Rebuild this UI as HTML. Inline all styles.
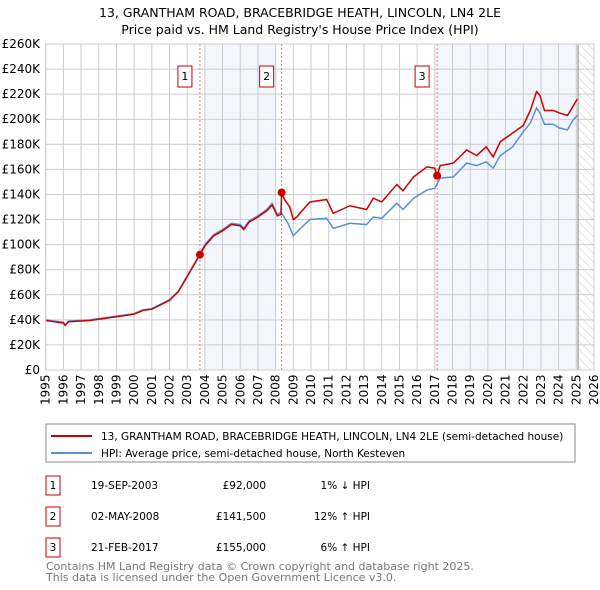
<!DOCTYPE html>
<html><head><meta charset="utf-8"><style>
body{margin:0;background:#fff;font-family:"Liberation Sans","DejaVu Sans",sans-serif}
svg{display:block}
</style></head><body>
<svg id="c" width="600" height="590" xmlns="http://www.w3.org/2000/svg" font-family="DejaVu Sans, Liberation Sans, sans-serif">
<text x="300" y="17" text-anchor="middle" font-size="12.5">13, GRANTHAM ROAD, BRACEBRIDGE HEATH, LINCOLN, LN4 2LE</text>
<text x="300" y="34" text-anchor="middle" font-size="12.5">Price paid vs. HM Land Registry's House Price Index (HPI)</text>
<defs><pattern id="hatch" width="6" height="6" patternUnits="userSpaceOnUse" patternTransform="rotate(-45)"><line x1="0" y1="0" x2="0" y2="6" stroke="#ccc" stroke-width="1"/></pattern></defs>
<g id="plot"></g>
<g>
<rect x="46" y="424" width="529" height="38" fill="#fff" stroke="#888"/>
<line x1="51" y1="436" x2="92" y2="436" stroke="#cc0000" stroke-width="2"/>
<text x="101" y="440" font-size="10.5">13, GRANTHAM ROAD, BRACEBRIDGE HEATH, LINCOLN, LN4 2LE (semi-detached house)</text>
<line x1="51" y1="453" x2="92" y2="453" stroke="#5b8fd4" stroke-width="2"/>
<text x="101" y="457" font-size="10.5">HPI: Average price, semi-detached house, North Kesteven</text>
</g>
<g font-size="10.5">
<rect x="46" y="476" width="14" height="19" fill="#fff" stroke="#cc0000"/><text x="53" y="489" text-anchor="middle">1</text>
<text x="91" y="489">19-SEP-2003</text><text x="266" y="489" text-anchor="end">£92,000</text><text x="370" y="489" text-anchor="end">1% ↓ HPI</text>
<rect x="46" y="507" width="14" height="19" fill="#fff" stroke="#cc0000"/><text x="53" y="520" text-anchor="middle">2</text>
<text x="91" y="520">02-MAY-2008</text><text x="266" y="520" text-anchor="end">£141,500</text><text x="370" y="520" text-anchor="end">12% ↑ HPI</text>
<rect x="46" y="538" width="14" height="19" fill="#fff" stroke="#cc0000"/><text x="53" y="551" text-anchor="middle">3</text>
<text x="91" y="551">21-FEB-2017</text><text x="266" y="551" text-anchor="end">£155,000</text><text x="370" y="551" text-anchor="end">6% ↑ HPI</text>
</g>
<text x="46" y="570" font-size="11" fill="#777">Contains HM Land Registry data © Crown copyright and database right 2025.</text>
<text x="46" y="581" font-size="11" fill="#777">This data is licensed under the Open Government Licence v3.0.</text>
</svg>
<script>
const yTicks=[0,20,40,60,80,100,120,140,160,180,200,220,240,260];
const years=[1995,1996,1997,1998,1999,2000,2001,2002,2003,2004,2005,2006,2007,2008,2009,2010,2011,2012,2013,2014,2015,2016,2017,2018,2019,2020,2021,2022,2023,2024,2025,2026];
const hpiT=[1995,1995.5,1996,1996.1,1996.3,1997.5,1998,1999,2000,2000.5,2001,2002,2002.5,2003,2003.7,2004,2004.5,2005,2005.5,2006,2006.2,2006.5,2007,2007.5,2007.8,2008.1,2008.3,2008.7,2009,2009.37,2009.94,2010.88,2011.26,2012.2,2013.14,2013.52,2014,2014.85,2015.2,2015.8,2016.55,2017,2017.3,2018.05,2018.8,2019.37,2019.9,2020.3,2020.7,2021.4,2022,2022.4,2022.75,2022.94,2023.2,2023.7,2024.05,2024.5,2024.8,2025.05];
const hpiV=[40,39,38,36,39,40,41,43,45,48,49,56,63,75,92,100,108,112,117,116,113,119,123,128,133,124,126,117,107,112.5,120,121,113,117,116,122,121,133,128,137,143.5,145,153,154,165,163,166,161,171,178,190,197,209,205,196,196,193,191.5,199,203];
const propT=[1995,1995.5,1996,1996.1,1996.3,1997.5,1998,1999,2000,2000.5,2001,2002,2002.5,2003,2003.72,2004,2004.5,2005,2005.5,2006,2006.2,2006.5,2007,2007.5,2007.8,2008.1,2008.3,2008.34,2008.5,2008.8,2009,2009.2,2009.37,2009.94,2010.88,2011.26,2012.2,2013.14,2013.52,2014,2014.85,2015.2,2015.8,2016.55,2017,2017.13,2017.3,2018.05,2018.8,2019.37,2019.9,2020.3,2020.7,2021.4,2022,2022.4,2022.75,2022.94,2023.2,2023.7,2024.05,2024.5,2024.8,2025.05];
const propV=[39.5,38.5,37.5,35.5,38.5,39.5,40.5,42.5,44.5,47.5,48.5,55.5,62.5,74.5,92,99,107,111,116,115,112,118,122,127,131.5,123,124,141.5,136,130,120,122,125,134,136,125,131,128,137,134,148,143,154,162,161,155,163,165,175.5,171,178,170,182,189,195,207,222,219,207,207,205,203,210,216];
const sales=[{n:"1",t:2003.72,v:92},{n:"2",t:2008.34,v:141.5},{n:"3",t:2017.13,v:155}];
const X0=45.7,X1=594,Y0=370,Y1=44;
const x=t=>X0+(t-1995)/31*(X1-X0);
const y=v=>Y0-v/260*(Y0-Y1);
const NS="http://www.w3.org/2000/svg";
const g=document.getElementById('plot');
function mk(tag,attrs,parent){const e=document.createElementNS(NS,tag);for(const k in attrs)e.setAttribute(k,attrs[k]);(parent||g).appendChild(e);return e;}
let e;
e=mk('rect',{x:X0,y:Y1,width:X1-X0,height:Y0-Y1,fill:'#fff'});


e=mk('rect',{x:x(2004),y:Y1,width:x(2008)-x(2004),height:Y0-Y1,fill:'#f3f6fd'});


e=mk('rect',{x:x(2017.13),y:Y1,width:x(2025.1)-x(2017.13),height:Y0-Y1,fill:'#f3f6fd'});


e=mk('rect',{x:x(2025.1),y:Y1,width:X1-x(2025.1),height:Y0-Y1,fill:'url(#hatch)'});


years.forEach(yr=>{
 e=mk('line',{x1:x(yr),x2:x(yr),y1:Y1,y2:Y0,stroke:'#ccc','stroke-width':1});
 
 
 e=mk('text',{x:0,y:0,'font-size':12,transform:`translate(${x(yr)+4},${Y0+35}) rotate(-90)`});
 e.textContent=yr;
 
 
});
yTicks.forEach(v=>{
 e=mk('line',{x1:X0,x2:X1,y1:y(v),y2:y(v),stroke:'#ccc','stroke-width':1});
 
 
 e=mk('text',{x:40,y:y(v)+4,'font-size':12,'text-anchor':'end'});
 e.textContent=v===0?'£0':'£'+v+'K';
 
 
});
e=mk('line',{x1:x(2025.1),x2:x(2025.1),y1:Y1,y2:Y0,stroke:'#888','stroke-width':1});


sales.forEach(s=>{
 e=mk('line',{x1:x(s.t),x2:x(s.t),y1:Y1,y2:Y0,stroke:'#f07070','stroke-width':1,'stroke-dasharray':'2,2'});
 
 
 e=mk('rect',{x:x(s.t)-22,y:66,width:14,height:21,fill:'#fff',stroke:'#cc0000'});
 
 
 e=mk('text',{x:x(s.t)-15,y:80,'font-size':11,'text-anchor':'middle'});
 e.textContent=s.n;
 
 
});
e=mk('polyline',{points:hpiT.map((t,i)=>x(t)+','+y(hpiV[i])).join(' '),fill:'none',stroke:'#5b8fd4','stroke-width':1.5});


e=mk('polyline',{points:propT.map((t,i)=>x(t)+','+y(propV[i])).join(' '),fill:'none',stroke:'#cc0000','stroke-width':1.5});


sales.forEach(s=>{
 e=mk('circle',{cx:x(s.t),cy:y(s.v),r:4,fill:'#cc0000'});
 
 
});
e=mk('rect',{x:X0,y:Y1,width:X1-X0,height:Y0-Y1,fill:'none',stroke:'#ccc'});


</script>
</body></html>
